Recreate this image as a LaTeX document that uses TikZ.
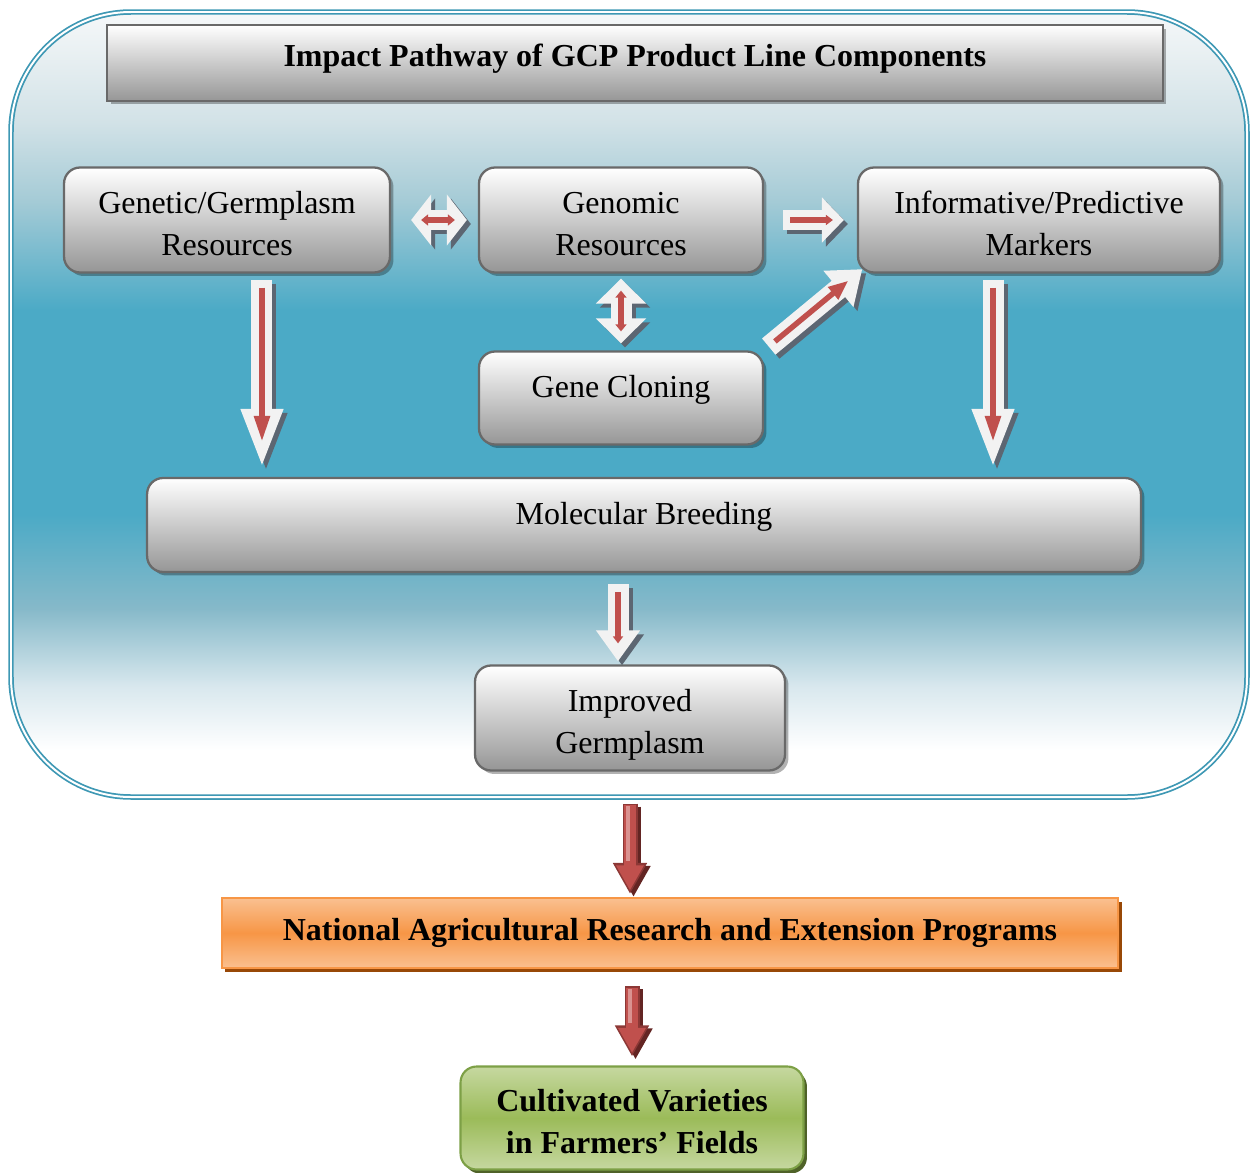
\documentclass[tikz,border=0pt]{standalone}
\usepackage{fontspec}
\setmainfont{Liberation Serif}
\usetikzlibrary{arrows.meta,shadows}

\definecolor{panelteal}{RGB}{75,170,198}
\definecolor{panelline}{RGB}{62,152,180}
\definecolor{tealmist}{RGB}{210,226,231}
\definecolor{tealsoft}{RGB}{165,203,214}
\definecolor{tealpale}{RGB}{134,185,201}
\definecolor{tealfog}{RGB}{217,232,238}
\definecolor{paneltop}{RGB}{246,248,249}
\definecolor{boxline}{RGB}{105,105,105}
\definecolor{boxgray}{RGB}{150,150,150}
\definecolor{arrowwhite}{RGB}{242,242,242}
\definecolor{arrowshade}{RGB}{92,102,114}
\definecolor{arrowred}{RGB}{192,80,77}
\definecolor{arrowpink}{RGB}{218,146,144}
\definecolor{arrowdark}{RGB}{140,56,54}
\definecolor{arrowdrop}{RGB}{99,37,35}
\definecolor{naresorange}{RGB}{247,150,70}
\definecolor{naresbright}{RGB}{250,192,144}
\definecolor{naresdrop}{RGB}{152,72,7}
\definecolor{cultgreen}{RGB}{155,187,89}
\definecolor{cultlight}{RGB}{198,216,160}
\definecolor{cultline}{RGB}{125,160,70}
\definecolor{cultdrop}{RGB}{79,98,40}

\pgfdeclareverticalshading{panelshade}{100bp}{color(0bp)=(white); color(28bp)=(white); color(32bp)=(tealfog); color(37bp)=(tealpale); color(43bp)=(panelteal); color(56bp)=(panelteal); color(63bp)=(tealsoft); color(68bp)=(tealmist); color(75bp)=(paneltop); color(100bp)=(paneltop)}

\tikzset{
  graybox/.style={draw=boxline, line width=1.3pt, rounded corners=0.32cm, top color=white, bottom color=boxgray, align=center, inner sep=0pt,
    drop shadow={shadow xshift=0.07cm, shadow yshift=-0.07cm, fill=black, opacity=0.3}},
  twoline/.style={text height=1.56cm, text depth=0.14cm},
  boldtext/.style={font={\fontsize{18.2}{23.8}\selectfont\bfseries}},
  titlebox/.style={graybox, rounded corners=0pt, boldtext},
  naresbox/.style={draw=naresorange, line width=1.2pt, top color=naresbright, bottom color=naresbright, middle color=naresorange, boldtext, inner sep=0pt,
    drop shadow={shadow xshift=0.07cm, shadow yshift=-0.08cm, fill=naresdrop, opacity=1}},
  cultbox/.style={draw=cultline, line width=1.2pt, rounded corners=0.32cm, top color=cultlight, bottom color=cultlight, middle color=cultgreen, boldtext, align=center, inner sep=0pt,
    drop shadow={shadow xshift=0.07cm, shadow yshift=-0.08cm, fill=cultdrop, opacity=1}},
  wshade/.style={draw=arrowshade, line width=0.42cm, transform canvas={xshift=0.08cm, yshift=-0.08cm}},
  wbody/.style={draw=arrowwhite, line width=0.42cm},
  rline/.style={draw=arrowred, line width=0.11cm},
  wtip/.style 2 args={-{Triangle[width=#1,length=#2]}},
  wtips/.style 2 args={{Triangle[width=#1,length=#2]}-{Triangle[width=#1,length=#2]}},
  rdrop/.style={draw=arrowdrop, line width=0.3cm, -{Triangle[width=0.64cm,length=0.62cm]}, transform canvas={xshift=0.07cm, yshift=-0.06cm}},
  rrim/.style={draw=arrowdark, line width=0.3cm, -{Triangle[width=0.64cm,length=0.62cm]}},
  rbody/.style={draw=arrowred, line width=0.24cm, -{Triangle[width=0.52cm,length=0.5cm]}},
  rshine/.style={draw=arrowpink, line width=0.08cm, transform canvas={xshift=-0.05cm}},
}

\newcommand{\whitearrow}[3]{%
  \draw[wshade,#1] #2 -- #3;
  \draw[wbody,#1] #2 -- #3;}
\newcommand{\redarrow}[4]{%
  \draw[rdrop, shorten <=#3, shorten >=#4] #1 -- #2;
  \draw[rrim, shorten <=#3, shorten >=#4] #1 -- #2;
  \draw[rbody, shorten <=#3+0.03cm, shorten >=#4+0.07cm] #1 -- #2;
  \draw[rshine, shorten <=#3+0.05cm, shorten >=#4+0.66cm] #1 -- #2;}

\begin{document}
\begin{tikzpicture}[x=0.02cm, y=-0.02cm, font={\fontsize{18.2}{23.8}\selectfont}]
\useasboundingbox (0,0) rectangle (1252,1173);
% background panel
\draw[panelline, line width=0.035cm, double=white, double distance=0.04cm, rounded corners=2.4cm, shading=panelshade] (11,12) rectangle (1247,797);

\node[titlebox, minimum width=21.12cm, minimum height=1.52cm, text depth=0.3cm] (title) at (635,63) {Impact Pathway of GCP Product Line Components};
\node[graybox, twoline, minimum width=6.52cm, minimum height=2.1cm] (germ) at (227,220) {Genetic/Germplasm\\Resources};
\node[graybox, twoline, minimum width=5.68cm, minimum height=2.1cm] (genomic) at (621,220) {Genomic\\Resources};
\node[graybox, twoline, minimum width=7.24cm, minimum height=2.1cm] (markers) at (1039,220) {Informative/Predictive\\Markers};
\node[graybox, minimum width=5.68cm, minimum height=1.86cm, text depth=0.46cm] (cloning) at (621,398) {Gene Cloning};
\node[graybox, minimum width=19.88cm, minimum height=1.88cm, text depth=0.46cm] (breeding) at (644,525) {Molecular Breeding};
\node[graybox, twoline, minimum width=6.2cm, minimum height=2.1cm] (improved) at (630,718) {Improved\\Germplasm};
\node[naresbox, minimum width=17.94cm, minimum height=1.4cm] (nares) at (670,933) {National Agricultural Research and Extension Programs};
\node[cultbox, twoline, minimum width=6.86cm, minimum height=2.06cm] (fields) at (632,1118) {Cultivated Varieties\\in Farmers' Fields};

% white block arrows
\whitearrow{wtips={1cm}{0.4cm}, shorten <=0.4cm, shorten >=0.22cm}{(germ.east)}{(genomic.west)}
\draw[rline, {Triangle[width=0.22cm,length=0.14cm]}-{Triangle[width=0.22cm,length=0.14cm]}, shorten <=0.6cm, shorten >=0.46cm] (germ.east) -- (genomic.west);

\whitearrow{wtip={0.88cm}{0.44cm}, shorten <=0.38cm, shorten >=0.26cm}{(genomic.east)}{(markers.west)}
\draw[rline, -{Triangle[width=0.2cm,length=0.14cm]}, shorten <=0.52cm, shorten >=0.48cm] (genomic.east) -- (markers.west);

\whitearrow{wtips={0.98cm}{0.5cm}, shorten <=0.1cm, shorten >=0.14cm}{(genomic.south)}{(cloning.north)}
\draw[rline, {Triangle[width=0.22cm,length=0.14cm]}-{Triangle[width=0.22cm,length=0.14cm]}, shorten <=0.34cm, shorten >=0.38cm] (genomic.south) -- (cloning.north);

\whitearrow{wtip={0.9cm}{0.62cm}, shorten <=0.12cm, shorten >=-0.14cm}{(cloning.north east)}{(markers.south west)}
\draw[rline, -{Triangle[width=0.3cm,length=0.4cm]}, shorten <=0.28cm, shorten >=0.22cm] (cloning.north east) -- (markers.south west);

\whitearrow{wtip={0.76cm}{1.2cm}, shorten <=0.12cm, shorten >=0.16cm}{([xshift=0.7cm]germ.south)}{([xshift=0.7cm]germ.south |- breeding.north)}
\draw[rline, -{Triangle[width=0.3cm,length=0.52cm]}, shorten <=0.28cm, shorten >=0.7cm] ([xshift=0.7cm]germ.south) -- ([xshift=0.7cm]germ.south |- breeding.north);

\whitearrow{wtip={0.76cm}{1.2cm}, shorten <=0.12cm, shorten >=0.16cm}{([xshift=-0.92cm]markers.south)}{([xshift=-0.92cm]markers.south |- breeding.north)}
\draw[rline, -{Triangle[width=0.3cm,length=0.52cm]}, shorten <=0.28cm, shorten >=0.7cm] ([xshift=-0.92cm]markers.south) -- ([xshift=-0.92cm]markers.south |- breeding.north);

\whitearrow{wtip={0.84cm}{0.62cm}, shorten <=0.22cm, shorten >=0.06cm}{([xshift=-0.52cm]breeding.south)}{([xshift=-0.52cm]breeding.south |- improved.north)}
\draw[rline, -{Triangle[width=0.2cm,length=0.14cm]}, shorten <=0.38cm, shorten >=0.42cm] ([xshift=-0.52cm]breeding.south) -- ([xshift=-0.52cm]breeding.south |- improved.north);

% red arrows below the panel
\redarrow{(improved.south)}{(improved.south |- nares.north)}{0.64cm}{0.06cm}
\redarrow{(fields.north |- nares.south)}{(fields.north)}{0.34cm}{0.18cm}
\end{tikzpicture}
\end{document}
